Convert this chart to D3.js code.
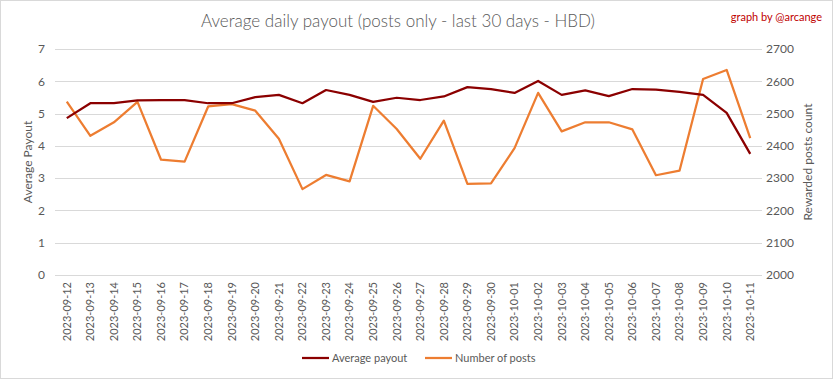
<!DOCTYPE html>
<html>
<head>
<meta charset="utf-8">
<script src="https://cdn.jsdelivr.net/npm/d3@7"></script>
<style>
  body { margin: 0; background: #fff; }
  text { font-family: Lato, "Open Sans", sans-serif; fill: #595959; }
</style>
</head>
<body>
<div id="chart"></div>
<script>
const width = 833
const height = 379

// data
const dates = [
  "2023-09-12", "2023-09-13", "2023-09-14", "2023-09-15", "2023-09-16", "2023-09-17",
  "2023-09-18", "2023-09-19", "2023-09-20", "2023-09-21", "2023-09-22", "2023-09-23",
  "2023-09-24", "2023-09-25", "2023-09-26", "2023-09-27", "2023-09-28", "2023-09-29",
  "2023-09-30", "2023-10-01", "2023-10-02", "2023-10-03", "2023-10-04", "2023-10-05",
  "2023-10-06", "2023-10-07", "2023-10-08", "2023-10-09", "2023-10-10", "2023-10-11"
]
const avgPayout = [
  4.86, 5.32, 5.32, 5.41, 5.42, 5.42, 5.32, 5.32, 5.51, 5.58,
  5.32, 5.73, 5.58, 5.36, 5.49, 5.42, 5.53, 5.82, 5.76, 5.64,
  6.01, 5.58, 5.72, 5.54, 5.76, 5.74, 5.67, 5.58, 5.02, 3.75
]
const postCount = [
  2537, 2431, 2473, 2536, 2357, 2351, 2522, 2529, 2509, 2422,
  2266, 2310, 2290, 2524, 2452, 2360, 2478, 2282, 2284, 2393,
  2564, 2445, 2473, 2473, 2451, 2309, 2323, 2607, 2635, 2424
]
const leftTicks = [0, 1, 2, 3, 4, 5, 6, 7]
const rightTicks = [2000, 2100, 2200, 2300, 2400, 2500, 2600, 2700]

const plot = {left: 55, right: 762, top: 49, bottom: 275}

const svg = d3.select("#chart")
    .append("svg")
    .attr("width", width)
    .attr("height", height)

// outer border of the chart
svg.append("rect")
    .attr("x", 0.5).attr("y", 0.5)
    .attr("width", width - 1).attr("height", height - 1)
    .attr("fill", "#fff")
    .attr("stroke", "#d9d9d9")

let x = d3.scaleBand().domain(dates).range([plot.left, plot.right])
let yLeft = d3.scaleLinear().domain([0, 7]).range([plot.bottom, plot.top])
let yRight = d3.scaleLinear().domain([2000, 2700]).range([plot.bottom, plot.top])

// gridlines
svg.append("g")
    .selectAll("line")
    .data(leftTicks)
    .enter()
    .append("line")
    .attr("x1", plot.left).attr("x2", plot.right)
    .attr("y1", d => Math.round(yLeft(d)) + 0.5)
    .attr("y2", d => Math.round(yLeft(d)) + 0.5)
    .attr("stroke", "#d9d9d9")

// left axis
let leftAxis = svg.append("g")
    .attr("transform", `translate(${plot.left - 10}, 0)`)
    .call(d3.axisLeft(yLeft).tickValues(leftTicks).tickFormat(d3.format("d")).tickSize(0).tickPadding(0))
leftAxis.select(".domain").remove()
leftAxis.selectAll("text").style("font-size", "12px").attr("fill", "#595959")

// right axis
let rightAxis = svg.append("g")
    .attr("transform", `translate(${plot.right + 4}, 0)`)
    .call(d3.axisRight(yRight).tickValues(rightTicks).tickFormat(d3.format("d")).tickSize(0).tickPadding(0))
rightAxis.select(".domain").remove()
rightAxis.selectAll("text").style("font-size", "12px").attr("fill", "#595959")

// x axis with rotated dates
let xAxis = svg.append("g")
    .attr("transform", `translate(0, ${plot.bottom + 7})`)
    .call(d3.axisBottom(x).tickSize(0).tickPadding(0))
xAxis.select(".domain").remove()
xAxis.selectAll("text")
    .style("font-size", "11px")
    .attr("fill", "#595959")
    .attr("text-anchor", "end")
    .attr("dy", "0.35em")
    .attr("transform", "rotate(-90)")
    .attr("x", 0).attr("y", 0)

// axis titles
svg.append("text")
    .attr("transform", `translate(32, ${(plot.top + plot.bottom) / 2}) rotate(-90)`)
    .attr("text-anchor", "middle")
    .style("font-size", "12px")
    .text("Average Payout")

svg.append("text")
    .attr("transform", `translate(812, ${(plot.top + plot.bottom) / 2}) rotate(-90)`)
    .attr("text-anchor", "middle")
    .style("font-size", "12px")
    .text("Rewarded posts count")

// title and credit
svg.append("text")
    .attr("x", 398).attr("y", 27)
    .attr("text-anchor", "middle")
    .style("font-size", "17px")
    .style("font-weight", 300)
    .text("Average daily payout (posts only - last 30 days - HBD)")

svg.append("text")
    .attr("x", 822).attr("y", 21)
    .attr("text-anchor", "end")
    .style("font-size", "11px")
    .style("fill", "#c00000")
    .text("graph by @arcange")

// lines
const cx = d => x(d) + x.bandwidth() / 2

let postLine = d3.line()
    .x((d, i) => cx(dates[i]))
    .y(d => yRight(d))

let payoutLine = d3.line()
    .x((d, i) => cx(dates[i]))
    .y(d => yLeft(d))

svg.append("path")
    .datum(postCount)
    .attr("d", postLine)
    .attr("fill", "none")
    .attr("stroke", "#ed7d31")
    .attr("stroke-width", 2.25)
    .attr("stroke-linejoin", "round")

svg.append("path")
    .datum(avgPayout)
    .attr("d", payoutLine)
    .attr("fill", "none")
    .attr("stroke", "#8b0000")
    .attr("stroke-width", 2.25)
    .attr("stroke-linejoin", "round")

// legend
const legendItems = [
  {label: "Average payout", color: "#8b0000", x: 302},
  {label: "Number of posts", color: "#ed7d31", x: 425}
]
let legend = svg.append("g")
    .selectAll("g")
    .data(legendItems)
    .enter()
    .append("g")
    .attr("transform", d => `translate(${d.x}, 358)`)
legend.append("line")
    .attr("x1", 0).attr("x2", 27)
    .attr("stroke", d => d.color)
    .attr("stroke-width", 2.25)
legend.append("text")
    .attr("x", 30).attr("dy", "0.35em")
    .style("font-size", "11px")
    .text(d => d.label)
</script>
</body>
</html>
